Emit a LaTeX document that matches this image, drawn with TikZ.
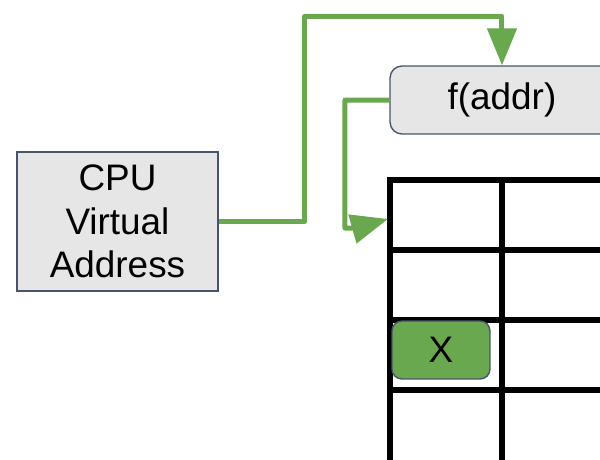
\documentclass[tikz,border=0pt]{standalone}
\usepackage{fontspec}
\setmainfont{Liberation Sans}
\usetikzlibrary{arrows.meta}
\definecolor{flowgreen}{RGB}{106,168,79}
\definecolor{boxgray}{RGB}{230,230,230}
\definecolor{edgeblue}{RGB}{70,84,108}
\tikzset{
  box/.style={draw=edgeblue, line width=0.8pt, fill=boxgray, align=center,
    inner sep=0pt, font=\fontsize{21pt}{24.8pt}\selectfont},
  flow/.style={draw=flowgreen, line width=0.1cm, line join=round,
    -{Triangle[length=0.74cm, width=0.58cm]}},
  gridline/.style={line width=0.105cm, line cap=rect}
}
\begin{document}
\begin{tikzpicture}[x=0.02cm, y=-0.02cm]
            \useasboundingbox (0,0) rectangle (600,460);
            \clip (0,0) rectangle (600,460);

            % Draw the table
            \foreach \y in {180,250,320,390} {
                \draw[gridline] (390,\y) -- (620,\y);
            }
            \draw[gridline] (390,180) -- (390,470);
            \draw[gridline] (502,180) -- (502,470);

            % Draw the boxes
            \node[box, minimum width=4.02cm, minimum height=2.78cm] (cpu) at (117.5,221.5) {CPU\\Virtual\\Address};
            \node[box, rounded corners=0.24cm, minimum width=4.48cm, minimum height=1.36cm] (fbox) at (502,100) {f(addr)};
            \node[box, fill=flowgreen, rounded corners=0.2cm, minimum width=1.96cm, minimum height=1.16cm] (entry) at (441,350) {X};

            % Draw the connectors
            \coordinate (top) at (305,16);
            \coordinate (bend) at (345,228);
            \coordinate (kink) at (356,228);
            \coordinate (slot) at (388,219);
            \draw[flow] (cpu.east) -| (top) -| (fbox.north);
            \draw[flow] (fbox.west) -| (bend) -- (kink) -- (slot);
        \end{tikzpicture}
\end{document}
